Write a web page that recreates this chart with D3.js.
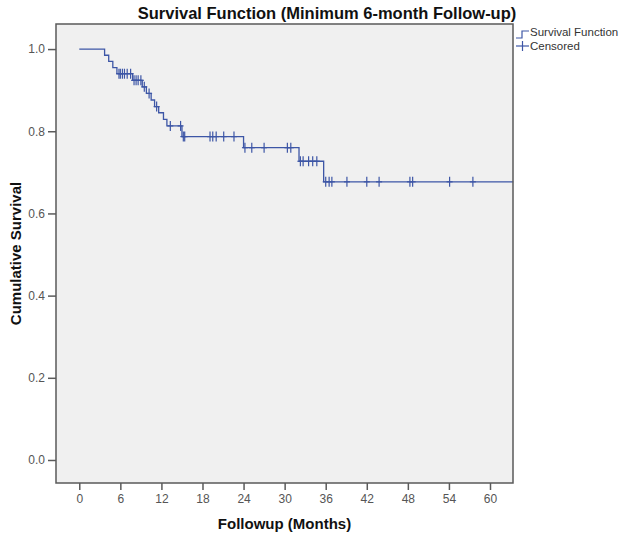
<!DOCTYPE html>
<html><head><meta charset="utf-8">
<script src="https://cdn.jsdelivr.net/npm/d3@7"></script>
<style>
html,body{margin:0;padding:0;background:#fff;}
text{font-family:"Liberation Sans",Arial,sans-serif;}
</style></head>
<body><svg id="chart" width="636" height="538"></svg>
<script>
// Kaplan-Meier step data: event times (months) and survival after each event
const eventTimes    = [0, 3.7, 4.3, 4.9, 5.5, 7.8, 9.2, 9.8, 10.5, 11.0, 11.6, 12.3, 12.8, 15.0, 24.0, 32.1, 35.7];
const survivalAfter = [1.0, 0.985, 0.970, 0.955, 0.940, 0.924, 0.908, 0.892, 0.876, 0.860, 0.845, 0.829, 0.813, 0.787, 0.760, 0.727, 0.677];
// Censored observation times (months)
const censorTimes = [5.8, 6.0, 6.3, 6.6, 7.0, 7.5, 8.0, 8.3, 8.6, 9.0, 9.5, 10.2, 11.3, 13.3, 14.8, 15.2, 15.4,
  19.1, 19.5, 20.0, 21.1, 22.6, 24.2, 25.2, 27.0, 30.4, 30.9, 32.3, 32.7, 33.5, 34.1, 34.7,
  36.0, 36.5, 36.9, 39.1, 42.0, 43.8, 48.3, 48.7, 54.1, 57.5];
const endTime = 63.4;
const xTicks = [0, 6, 12, 18, 24, 30, 36, 42, 48, 54, 60];
const yTicks = [0.0, 0.2, 0.4, 0.6, 0.8, 1.0];
const titleText = "Survival Function (Minimum 6-month Follow-up)";
const xLabel = "Followup (Months)";
const yLabel = "Cumulative Survival";
const legendLabels = ["Survival Function", "Censored"];

const svg = d3.select("#chart");
const L = 56, R = 513, T = 24, B = 483;
const x = d3.scaleLinear().domain([-3.4, 63.36]).range([L, R]);
const y = d3.scaleLinear().domain([-0.056, 1.061]).range([B, T]);
const blue = "#3d56a6";

svg.append("rect").attr("x", L).attr("y", T).attr("width", R - L).attr("height", B - T)
  .attr("fill", "#f0f0f0");

// step path
const pts = eventTimes.map((t, i) => [t, survivalAfter[i]]);
pts.push([endTime, survivalAfter[survivalAfter.length - 1]]);
const line = d3.line().x(d => x(d[0])).y(d => y(d[1])).curve(d3.curveStepAfter);
svg.append("path").datum(pts).attr("d", line).attr("fill", "none")
  .attr("stroke", blue).attr("stroke-width", 1.3);

function survAt(t) {
  let s = 1;
  for (let i = 0; i < eventTimes.length; i++) if (eventTimes[i] <= t) s = survivalAfter[i];
  return s;
}
const cg = svg.append("g").attr("stroke", blue).attr("stroke-width", 1.2);
censorTimes.forEach(t => {
  const cx = x(t), cy = y(survAt(t));
  cg.append("line").attr("x1", cx).attr("x2", cx).attr("y1", cy - 5).attr("y2", cy + 5);
  cg.append("line").attr("x1", cx - 3).attr("x2", cx + 3).attr("y1", cy).attr("y2", cy);
});

// frame
svg.append("rect").attr("x", L).attr("y", T).attr("width", R - L).attr("height", B - T)
  .attr("fill", "none").attr("stroke", "#5a5a5a").attr("stroke-width", 1.5);

// axes
const xAxis = d3.axisBottom(x).tickValues(xTicks).tickSize(7).tickPadding(4).tickFormat(d3.format("d"));
const gx = svg.append("g").attr("transform", `translate(0,${B})`).call(xAxis);
gx.select(".domain").remove();
gx.selectAll("line").attr("stroke", "#5a5a5a").attr("stroke-width", 1.5);
gx.selectAll("text").attr("fill", "#555").style("font-size", "12px");

const yAxis = d3.axisLeft(y).tickValues(yTicks).tickSize(8).tickPadding(3).tickFormat(d3.format(".1f"));
const gy = svg.append("g").attr("transform", `translate(${L},0)`).call(yAxis);
gy.select(".domain").remove();
gy.selectAll("line").attr("stroke", "#5a5a5a").attr("stroke-width", 1.5);
gy.selectAll("text").attr("fill", "#555").style("font-size", "12px");

// title and labels
svg.append("text").attr("x", 327).attr("y", 19).attr("text-anchor", "middle")
  .style("font-size", "16.5px").style("font-weight", "bold").attr("fill", "#111").text(titleText);
svg.append("text").attr("x", (L + R) / 2).attr("y", 529).attr("text-anchor", "middle")
  .style("font-size", "15px").style("font-weight", "bold").attr("fill", "#111").text(xLabel);
svg.append("text").attr("transform", `translate(21,${(T + B) / 2}) rotate(-90)`).attr("text-anchor", "middle")
  .style("font-size", "15px").style("font-weight", "bold").attr("fill", "#111").text(yLabel);

// legend
const lg = svg.append("g");
lg.append("path").attr("d", "M516,38 H522 V31 H529").attr("fill", "none").attr("stroke", blue).attr("stroke-width", 1.2);
lg.append("line").attr("x1", 516).attr("x2", 529).attr("y1", 46).attr("y2", 46).attr("stroke", blue).attr("stroke-width", 1.2);
lg.append("line").attr("x1", 522.5).attr("x2", 522.5).attr("y1", 41).attr("y2", 51).attr("stroke", blue).attr("stroke-width", 1.2);
lg.selectAll("text.leg").data(legendLabels).enter().append("text")
  .attr("x", 530).attr("y", (d, i) => 36 + i * 14)
  .style("font-size", "11.5px").attr("fill", "#333").text(d => d);
</script></body></html>
